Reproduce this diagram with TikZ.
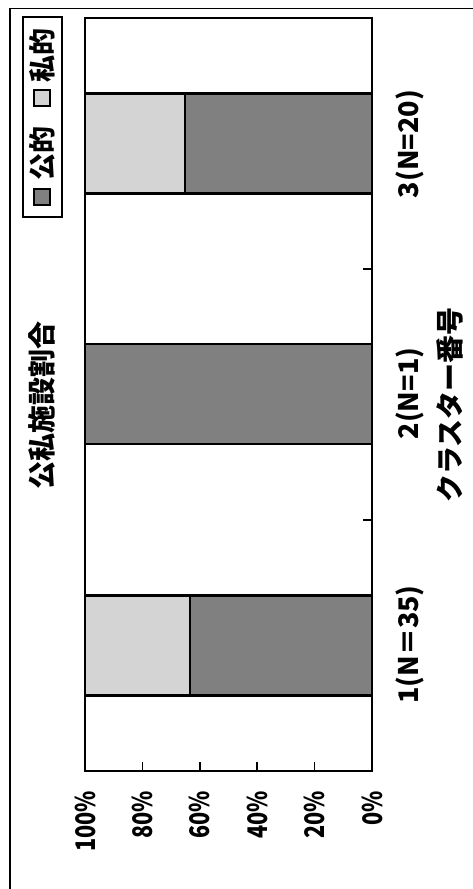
\documentclass[tikz,border=0pt]{standalone}
\usepackage{fontspec}
\setmainfont{Noto Sans CJK JP}
\begin{document}
\begin{tikzpicture}[x=1pt,y=-1pt,
  lbl/.style={font=\fontsize{27}{27}\selectfont\bfseries, inner sep=0pt, rotate=90},
  biglbl/.style={lbl, font=\fontsize{28}{28}\selectfont\bfseries},
  ticklbl/.style={lbl, anchor=east},
  outer/.style={line width=1.5pt},
  plotframe/.style={line width=2.6pt},
  tickline/.style={line width=1.5pt},
  barbox/.style={draw, line width=2.8pt},
  pub/.style={barbox, fill=black!50},
  priv/.style={barbox, fill=black!17},
  legsq/.style={draw, line width=1.6pt}]
\useasboundingbox (0,0) rectangle (473,889);
% outer frame (left and top edges)
\draw[outer] (10,889) -- (10,8.5) -- (473,8.5);
% bars
\path[priv] (85,595.5) rectangle (190,695.5);
\path[pub]  (190,595.5) rectangle (372,695.5);
\path[pub]  (85,344) rectangle (372,444);
\path[priv] (85,93.5) rectangle (185,193.5);
\path[pub]  (185,93.5) rectangle (372,193.5);
% plot frame
\draw[plotframe] (85,18) rectangle (372,771);
% value ticks
\foreach \v in {1,2,3,4}{
  \draw[tickline] ({372-\v*57.4},771) -- ({372-\v*57.4},762);
}
% category ticks
\draw[tickline] (372,520) -- (363,520);
\draw[tickline] (372,269) -- (363,269);
% value labels
\node[ticklbl] (t0)   at (372,791)   {\scalebox{0.8}[1]{0\%}};
\node[ticklbl] (t20)  at (314.6,791) {\scalebox{0.8}[1]{20\%}};
\node[ticklbl] (t40)  at (257.2,791) {\scalebox{0.8}[1]{40\%}};
\node[ticklbl] (t60)  at (199.8,791) {\scalebox{0.8}[1]{60\%}};
\node[ticklbl] (t80)  at (142.4,791) {\scalebox{0.8}[1]{80\%}};
\node[ticklbl] (t100) at (85,791)    {\scalebox{0.8}[1]{100\%}};
% category labels
\node[lbl] (c1) at (410,644.5) {1(N＝35)};
\node[lbl] (c2) at (410,393.5) {2(N=1)};
\node[lbl] (c3) at (410,144)   {3(N=20)};
% axis title and chart title
\node[biglbl] (xtitle) at (450,405) {クラスター番号};
\node[biglbl] (title)  at (42,405)  {公私施設割合};
% legend
\draw[outer] (23,17) rectangle (62,217);
\path[legsq, fill=black!50] (34,189) rectangle (50,205);
\node[lbl] (lpub) at (42,153) {公的};
\path[legsq, fill=black!17] (34,90) rectangle (50,106);
\node[lbl] (lpriv) at (42,55) {私的};
\end{tikzpicture}
\end{document}
